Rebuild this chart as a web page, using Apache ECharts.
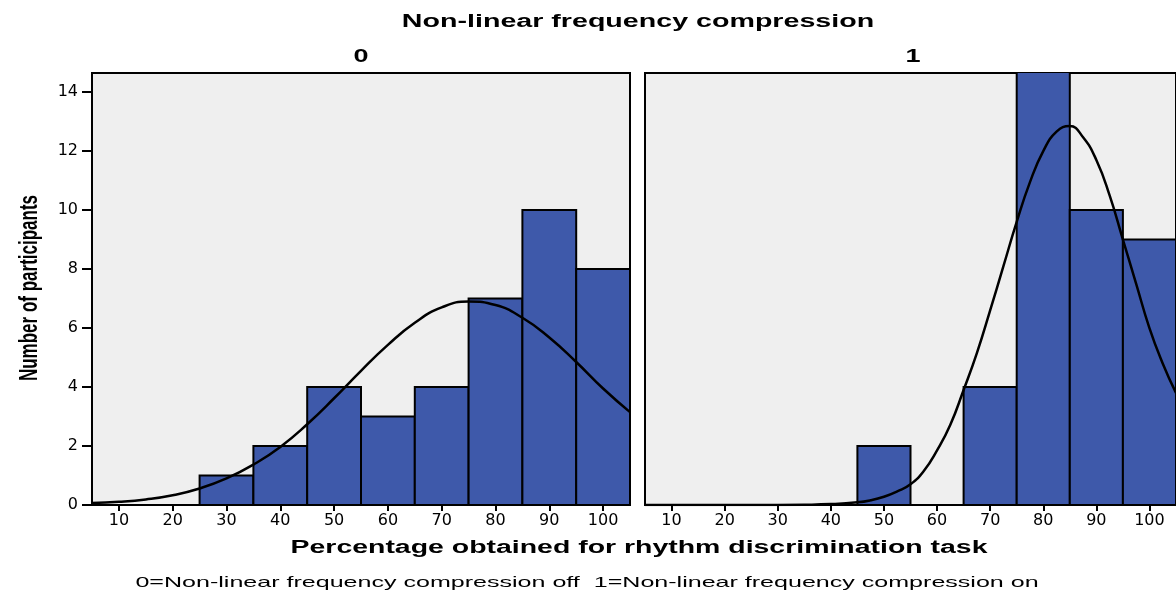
<!DOCTYPE html>
<html lang="en" style="height: 100%">
<head>
  <meta charset="utf-8">
</head>
<body style="height: 100%; margin: 0; background: #fff">
  <div id="container" style="width: 1176px; height: 594px"></div>

  <script type="text/javascript" src="https://fastly.jsdelivr.net/npm/echarts@6/dist/echarts.min.js"></script>
  <script type="text/javascript">
    var dom = document.getElementById('container');
    var myChart = echarts.init(dom, null, { renderer: 'canvas' });

    // histogram bins (centre of each 10-point bin) and counts
    const binWidth = 10;
    const offCenters = [30, 40, 50, 60, 70, 80, 90, 100];
    const offCounts = [1, 2, 4, 3, 4, 7, 10, 8];
    const onCenters = [50, 70, 80, 90, 100];
    const onCounts = [2, 4, 15, 10, 9];

    // fitted normal curves
    const offCurveX = [5, 10, 15, 20, 25, 30, 35, 40, 45, 50, 55, 60, 65, 70, 75, 80, 85, 90, 95, 100, 105];
    const offCurve = [0.07, 0.11, 0.19, 0.33, 0.56, 0.9, 1.37, 1.97, 2.74, 3.62, 4.55, 5.43, 6.18, 6.7, 6.9, 6.78, 6.35, 5.68, 4.85, 3.95, 3.15];
    const onCurveX = [5, 15, 25, 35, 40, 45, 47.5, 50, 52.5, 55, 57.5, 60, 62.5, 65, 67.5, 70, 72.5, 75, 77.5, 80, 82.5, 85, 87.5, 90, 92.5, 95, 97.5, 100, 102.5, 105];
    const onCurve = [0, 0, 0, 0.01, 0.03, 0.09, 0.16, 0.28, 0.46, 0.7, 1.15, 1.85, 2.72, 3.9, 5.15, 6.6, 8.1, 9.6, 10.95, 12.0, 12.66, 12.85, 12.47, 11.7, 10.5, 9.0, 7.5, 6.0, 4.8, 3.8];

    const xTicks = [10, 20, 30, 40, 50, 60, 70, 80, 90, 100];
    const yTicks = [0, 2, 4, 6, 8, 10, 12, 14];
    const panelNames = ['0', '1'];

    const barColor = '#3e59aa';
    const tickFont = { fontFamily: 'DejaVu Sans', fontSize: 16, color: '#000' };

    function zip(a, b) {
      return a.map(function (v, i) { return [v, b[i]]; });
    }

    function renderBin(params, api) {
      var c = api.value(0);
      var n = api.value(1);
      var p0 = api.coord([c - binWidth / 2, n]);
      var p1 = api.coord([c + binWidth / 2, 0]);
      return {
        type: 'rect',
        shape: { x: p0[0], y: p0[1], width: p1[0] - p0[0], height: p1[1] - p0[1] },
        style: { fill: barColor, stroke: '#000', lineWidth: 2 }
      };
    }

    function xAxisFor(i) {
      return {
        type: 'value', gridIndex: i, min: 5, max: 105,
        splitLine: { show: false },
        axisLine: { show: true, onZero: false, lineStyle: { color: '#000', width: 2 } },
        axisTick: { show: true, customValues: xTicks, length: 6, lineStyle: { color: '#000', width: 2 } },
        axisLabel: Object.assign({ customValues: xTicks, margin: 8 }, tickFont)
      };
    }

    function yAxisFor(i) {
      var left = i === 0;
      return {
        type: 'value', gridIndex: i, min: 0, max: 14.65,
        splitLine: { show: false },
        axisLine: { show: left, lineStyle: { color: '#000', width: 2 } },
        axisTick: { show: left, customValues: yTicks, length: 10, lineStyle: { color: '#000', width: 2 } },
        axisLabel: Object.assign({ show: left, customValues: yTicks, margin: 14 }, tickFont)
      };
    }

    function stretchedText(text, x, y, font, sx, sy, rot) {
      return {
        type: 'text', x: x, y: y, scaleX: sx, scaleY: sy || 1, rotation: rot || 0, z: 100,
        style: { text: text, x: 0, y: 0, font: font, fill: '#000', align: 'center', verticalAlign: 'middle' }
      };
    }

    var option = {
      animation: false,
      grid: [
        { left: 92, top: 73, width: 538, height: 432, show: true, backgroundColor: '#efefef', borderColor: '#000', borderWidth: 2 },
        { left: 645, top: 73, width: 540, height: 432, show: true, backgroundColor: '#efefef', borderColor: '#000', borderWidth: 2 }
      ],
      xAxis: [xAxisFor(0), xAxisFor(1)],
      yAxis: [yAxisFor(0), yAxisFor(1)],
      series: [
        { type: 'custom', xAxisIndex: 0, yAxisIndex: 0, renderItem: renderBin, data: zip(offCenters, offCounts), clip: true },
        { type: 'custom', xAxisIndex: 1, yAxisIndex: 1, renderItem: renderBin, data: zip(onCenters, onCounts), clip: true },
        { type: 'line', xAxisIndex: 0, yAxisIndex: 0, data: zip(offCurveX, offCurve), smooth: true, showSymbol: false, lineStyle: { color: '#000', width: 2.5 }, z: 5 },
        { type: 'line', xAxisIndex: 1, yAxisIndex: 1, data: zip(onCurveX, onCurve), smooth: true, showSymbol: false, lineStyle: { color: '#000', width: 2.5 }, z: 5 }
      ],
      graphic: {
        elements: [
          stretchedText('Non-linear frequency compression', 638, 22, 'bold 18px "Liberation Sans"', 1.59),
          stretchedText(panelNames[0], 361, 57, 'bold 18px "Liberation Sans"', 1.5),
          stretchedText(panelNames[1], 913, 57, 'bold 18px "Liberation Sans"', 1.5),
          stretchedText('Percentage obtained for rhythm discrimination task', 639, 548, 'bold 18px "Liberation Sans"', 1.58),
          stretchedText('Number of participants', 30, 288, 'bold 17px "Liberation Sans"', 1, 1.5, Math.PI / 2),
          stretchedText('0=Non-linear frequency compression off  1=Non-linear frequency compression on', 587, 583, '15px "Liberation Sans"', 1.67)
        ]
      }
    };

    myChart.setOption(option);
    window.addEventListener('resize', myChart.resize);
  </script>
</body>
</html>
